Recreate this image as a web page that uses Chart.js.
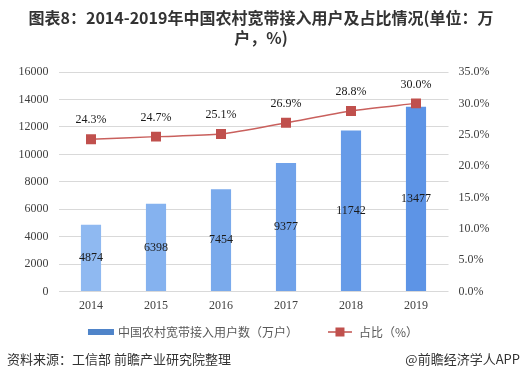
<!DOCTYPE html>
<html>
<head>
<meta charset="utf-8">
<script src="https://cdn.jsdelivr.net/npm/chart.js@4"></script>
<style>
  html, body { margin: 0; padding: 0; background: #fff; }
  #wrap { position: relative; width: 522px; height: 380px; overflow: hidden; }
  #c { position: absolute; left: 0; top: 0; }
  .title { position: absolute; left: 0; top: 7px; width: 522px; text-align: center;
    font: bold 16px "Noto Sans CJK SC", sans-serif; color: #333; line-height: 20px; }
  .foot { position: absolute; top: 350px; font: 13px "Noto Sans CJK SC", sans-serif; color: #333; line-height: 18px; white-space: nowrap; }
</style>
</head>
<body>
<div id="wrap">
  <canvas id="c" width="522" height="380"></canvas>
  <div class="title">图表8：2014-2019年中国农村宽带接入用户及占比情况(单位：万<br>户，%)</div>
  <div class="foot" style="left:7px;">资料来源：工信部 前瞻产业研究院整理</div>
  <div class="foot" style="right:2px;">@前瞻经济学人APP</div>
</div>
<script>
const categories = ['2014', '2015', '2016', '2017', '2018', '2019'];
const users = [4874, 6398, 7454, 9377, 11742, 13477];
const share = [24.3, 24.7, 25.1, 26.9, 28.8, 30.0];
const usersLabel = '中国农村宽带接入用户数（万户）';
const shareLabel = '占比（%）';
const barColors = ['#8fb9f1', '#85b2ef', '#7aaaec', '#70a2ea', '#669be8', '#5d94e6'];

const serif = '"Liberation Serif", "Times New Roman", serif';
const cjk = '"Noto Sans CJK SC", sans-serif';

const labelsPlugin = {
  id: 'labels',
  afterDatasetsDraw(chart) {
    const ctx = chart.ctx;
    ctx.save();
    ctx.font = '12px ' + serif;
    ctx.fillStyle = '#1a1a1a';
    ctx.textAlign = 'center';
    ctx.textBaseline = 'middle';
    chart.getDatasetMeta(0).data.forEach((el, i) => {
      const mid = (el.y + el.base) / 2;
      ctx.fillText(String(users[i]), el.x, mid);
    });
    chart.getDatasetMeta(1).data.forEach((el, i) => {
      ctx.fillText(share[i].toFixed(1) + '%', el.x, el.y - 19);
    });
    ctx.restore();
  },
  afterDraw(chart) {
    const ctx = chart.ctx;
    ctx.save();
    ctx.font = '12px ' + cjk;
    ctx.textBaseline = 'middle';
    ctx.fillStyle = '#595959';
    const y = 332;
    const w1 = ctx.measureText(usersLabel).width;
    const w2 = ctx.measureText(shareLabel).width;
    const total = 26 + 4 + w1 + 30 + 24 + 7 + w2;
    let x = 253 - total / 2;
    ctx.fillStyle = '#4f84c9';
    ctx.fillRect(x, y - 3, 26, 6);
    x += 30;
    ctx.fillStyle = '#595959';
    ctx.fillText(usersLabel, x, y);
    x += w1 + 30;
    ctx.strokeStyle = '#c0504d';
    ctx.lineWidth = 1.5;
    ctx.beginPath(); ctx.moveTo(x, y); ctx.lineTo(x + 24, y); ctx.stroke();
    ctx.fillStyle = '#c0504d';
    ctx.fillRect(x + 12 - 4.5, y - 4.5, 9, 9);
    x += 31;
    ctx.fillStyle = '#595959';
    ctx.fillText(shareLabel, x, y);
    ctx.restore();
  }
};

new Chart(document.getElementById('c'), {
  data: {
    labels: categories,
    datasets: [
      {
        type: 'bar', label: usersLabel, data: users, yAxisID: 'y',
        backgroundColor: barColors, barPercentage: 0.31, categoryPercentage: 1, order: 2
      },
      {
        type: 'line', label: shareLabel, data: share, yAxisID: 'y1',
        borderColor: '#c9605d', borderWidth: 1.5, tension: 0.25,
        pointStyle: 'rect', pointRadius: 6, pointHoverRadius: 6,
        pointBackgroundColor: '#c0504d', pointBorderColor: '#c0504d', order: 1
      }
    ]
  },
  options: {
    responsive: false,
    animation: false,
    layout: { padding: { top: 72, left: 0, right: 0, bottom: 60 } },
    plugins: { legend: { display: false }, tooltip: { enabled: false } },
    scales: {
      x: {
        grid: { display: false, drawTicks: false },
        border: { display: false },
        ticks: { font: { family: serif, size: 12 }, color: '#404040', padding: 7 }
      },
      y: {
        position: 'left', min: 0, max: 16000,
        ticks: { stepSize: 2000, font: { family: serif, size: 12 }, color: '#404040', padding: 10,
          callback: v => String(v) },
        grid: { color: '#d9d9d9', drawTicks: false },
        border: { display: false },
        afterFit(s) { s.width = 58.5; }
      },
      y1: {
        position: 'right', min: 0, max: 35,
        ticks: { stepSize: 5, font: { family: serif, size: 12 }, color: '#404040', padding: 10,
          callback: v => Number(v).toFixed(1) + '%' },
        grid: { display: false, drawTicks: false },
        border: { display: false },
        afterFit(s) { s.width = 73.5; }
      }
    }
  },
  plugins: [labelsPlugin]
});
</script>
</body>
</html>
